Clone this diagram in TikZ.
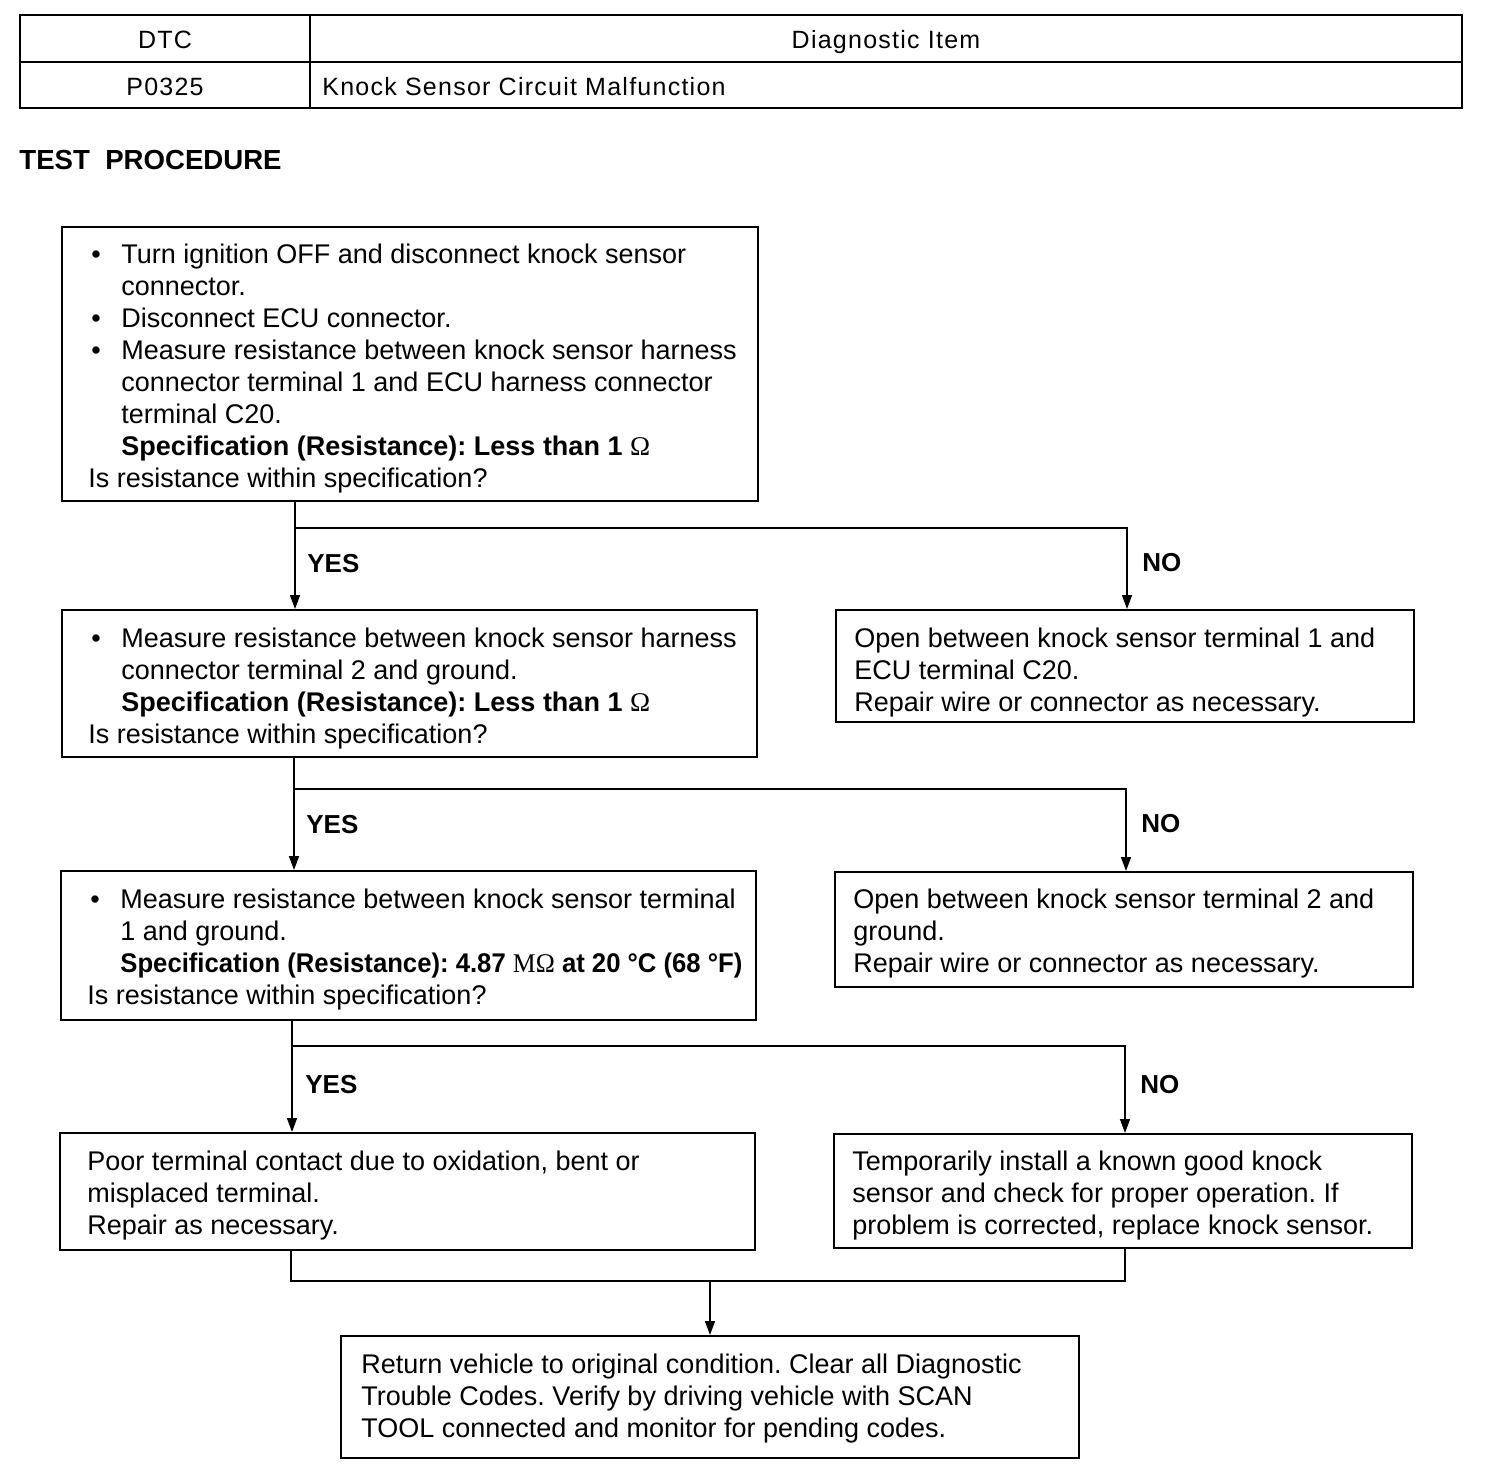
\documentclass[tikz,border=0pt]{standalone}
\usepackage{fontspec}
\usepackage{graphicx}
\setmainfont{Liberation Sans}
\newfontfamily\symfont{Liberation Serif}
\newfontfamily\tabfont[LetterSpace=5]{Liberation Sans}
\usetikzlibrary{arrows.meta,fit,calc}
\frenchspacing
\newcommand\mainsz{\fontsize{13.5}{16}\selectfont}
\newcommand\bul{\hspace*{1.5pt}\makebox[15pt][l]{\textbullet}}
\newcommand\ind{\hspace*{16.5pt}}
\newcommand\ohm{{\symfont\mdseries Ω}}
\begin{document}
\begin{tikzpicture}[x=0.5pt,y=-0.5pt,
  box/.style={draw, line width=1pt, inner sep=0pt},
  cell/.style={draw, line width=1pt, inner sep=0pt},
  txt/.style={anchor=north west, inner sep=0pt, align=left, font=\mainsz},
  tabtxt/.style={anchor=base, inner sep=0pt, font=\tabfont\fontsize{12.5}{15}\selectfont},
  lab/.style={anchor=west, inner sep=0pt, font=\bfseries\fontsize{13}{15}\selectfont},
  ln/.style={line width=0.8pt},
  arr/.style={line width=0.8pt, -{Triangle[length=7pt,width=5pt]}}]
\path[use as bounding box] (0,0) rectangle (1504,1470);

% table
\node[cell, fit={(20,15) (310,62)}] (c11) {};
\node[cell, fit={(310,15) (1462,62)}] (c12) {};
\node[cell, fit={(20,62) (310,108)}] (c21) {};
\node[cell, fit={(310,62) (1462,108)}] (c22) {};
\node[tabtxt] (tdtc) at (165,49) {DTC};
\node[tabtxt] (tdiag) at (886,49) {Diagnostic Item};
\node[tabtxt] (tcode) at (165,96) {P0325};
\node[tabtxt, anchor=base west] (tname) at (322,96) {Knock Sensor Circuit Malfunction};

\node[anchor=base west, inner sep=0pt, font=\bfseries\fontsize{13.8}{16}\selectfont] (title) at (19,169.5) {TEST\ \ PROCEDURE};

% boxes
\node[box, fit={(62,227) (758,501)}] (b1) {};
\node[box, fit={(62,610) (757,757)}] (b2) {};
\node[box, fit={(836,610) (1414,722)}] (n1) {};
\node[box, fit={(61,871) (756,1020)}] (b3) {};
\node[box, fit={(835,872) (1413,987)}] (n2) {};
\node[box, fit={(60,1133) (755,1250)}] (b4) {};
\node[box, fit={(834,1134) (1412,1248)}] (n3) {};
\node[box, fit={(341,1336) (1079,1458)}] (b6) {};

% texts
\node[txt] (t1) at (88,240.6) {\strut\bul Turn ignition OFF and disconnect knock sensor\\
\ind connector.\\
\bul Disconnect ECU connector.\\
\bul Measure resistance between knock sensor harness\\
\ind connector terminal 1 and ECU harness connector\\
\ind terminal C20.\\
\ind\textbf{Specification (Resistance): Less than 1 \ohm}\\
Is resistance within specification?};

\node[txt] (t2) at (88,624.6) {\strut\bul Measure resistance between knock sensor harness\\
\ind connector terminal 2 and ground.\\
\ind\textbf{Specification (Resistance): Less than 1 \ohm}\\
Is resistance within specification?};

\node[txt] (tn1) at (854,624.6) {\strut Open between knock sensor terminal 1 and\\
ECU terminal C20.\\
Repair wire or connector as necessary.};

\node[txt] (t3) at (87,885.6) {\strut\bul Measure resistance between knock sensor terminal\\
\ind 1 and ground.\\
\ind\resizebox{311pt}{\height}{\textbf{Specification (Resistance): 4.87 {\symfont\mdseries MΩ} at 20 °C (68 °F)}}\\
Is resistance within specification?};

\node[txt] (tn2) at (853,885.6) {\strut Open between knock sensor terminal 2 and\\
ground.\\
Repair wire or connector as necessary.};

\node[txt] (t4) at (87,1147.6) {\strut Poor terminal contact due to oxidation, bent or\\
misplaced terminal.\\
Repair as necessary.};

\node[txt] (tn3) at (852,1147.6) {\strut Temporarily install a known good knock\\
sensor and check for proper operation. If\\
problem is corrected, replace knock sensor.};

\node[txt] (t6) at (361,1350.6) {\strut Return vehicle to original condition. Clear all Diagnostic\\
Trouble Codes. Verify by driving vehicle with SCAN\\
TOOL connected and monitor for pending codes.};

% connectors
\coordinate (j1) at (295,528);
\coordinate (k1) at (1127,528);
\draw[arr] (b1.south -| j1) -- (b2.north -| j1);
\draw[arr] (j1) -- (k1) -- (n1.north -| k1);
\node[lab] (y1) at (307,564) {YES};
\node[lab] (no1) at (1142,563) {NO};

\coordinate (j2) at (294,789);
\coordinate (k2) at (1126,789);
\draw[arr] (b2.south -| j2) -- (b3.north -| j2);
\draw[arr] (j2) -- (k2) -- (n2.north -| k2);
\node[lab] (y2) at (306,825) {YES};
\node[lab] (no2) at (1141,824) {NO};

\coordinate (j3) at (292,1046);
\coordinate (k3) at (1125,1046);
\draw[arr] (b3.south -| j3) -- (b4.north -| j3);
\draw[arr] (j3) -- (k3) -- (n3.north -| k3);
\node[lab] (y3) at (305,1085) {YES};
\node[lab] (no3) at (1140,1085) {NO};

\coordinate (m1) at (291,1281);
\coordinate (m2) at (1125,1281);
\coordinate (m3) at (710,1281);
\draw[ln] (b4.south -| m1) -- (m1) -- (m2) -- (n3.south -| m2);
\draw[arr] (m3) -- (b6.north -| m3);
\end{tikzpicture}
\end{document}
